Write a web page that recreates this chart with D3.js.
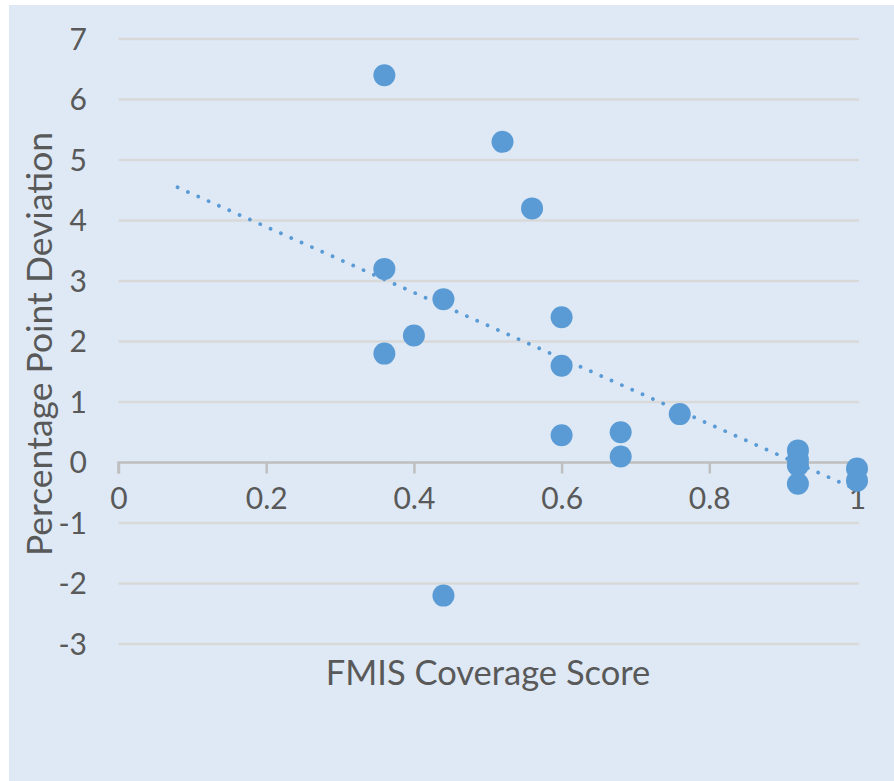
<!DOCTYPE html>
<html>
<head>
<meta charset="utf-8">
<script src="https://cdn.jsdelivr.net/npm/d3@7"></script>
<style>
  html, body { margin: 0; padding: 0; background: #ffffff; }
  text { font-family: Lato, "Open Sans", sans-serif; fill: #595959; }
</style>
</head>
<body>
<svg id="chart"></svg>
<script>
// FMIS coverage score vs percentage point deviation
const coverage = [0.36, 0.52, 0.56, 0.36, 0.44, 0.40, 0.36, 0.60, 0.60, 0.60,
                  0.68, 0.68, 0.76, 0.44, 0.92, 0.92, 0.92, 0.92, 1.00, 1.00];
const deviation = [6.4, 5.3, 4.2, 3.2, 2.7, 2.1, 1.8, 2.4, 1.6, 0.45,
                   0.5, 0.1, 0.8, -2.2, 0.2, 0.05, -0.05, -0.35, -0.1, -0.3];
const xTicks = [0, 0.2, 0.4, 0.6, 0.8, 1];
const yTicks = [-3, -2, -1, 0, 1, 2, 3, 4, 5, 6, 7];
const trendFrom = 0.08; // linear trendline, forecast backward to here

const width = 894, height = 781;
const svg = d3.select("#chart").attr("width", width).attr("height", height);

svg.append("rect")
  .attr("x", 9).attr("y", 5)
  .attr("width", width - 9).attr("height", height - 5)
  .attr("fill", "#dee9f5");

const x = d3.scaleLinear().domain([0, 1]).range([118.5, 857]);
const y = d3.scaleLinear().domain([-3, 7]).range([644, 39]);

// gridlines
svg.append("g")
  .selectAll("line")
  .data(yTicks.filter(d => d !== 0))
  .join("line")
  .attr("x1", x(0)).attr("x2", x(1) + 2)
  .attr("y1", d => y(d)).attr("y2", d => y(d))
  .attr("stroke", "#d9d9d9")
  .attr("stroke-width", 2.5);

// x axis at zero
const xAxis = svg.append("g")
  .attr("transform", `translate(0,${y(0)})`)
  .call(d3.axisBottom(x).tickValues(xTicks).tickSize(11).tickPadding(14)
    .tickFormat(d => d === 0 || d === 1 ? d : d3.format(".1f")(d)));
xAxis.select(".domain").attr("stroke", "#bfbfbf").attr("stroke-width", 2.5)
  .attr("d", `M${x(0)},11V0H${x(1) + 2}`);
xAxis.selectAll(".tick line").attr("stroke", "#bfbfbf").attr("stroke-width", 2.5);
xAxis.selectAll(".tick text").style("font-size", "30px").attr("fill", "#595959")
  .style("font-family", "Lato, sans-serif");

// y tick labels
svg.append("g")
  .selectAll("text")
  .data(yTicks)
  .join("text")
  .attr("x", 87)
  .attr("y", d => y(d))
  .attr("dy", "0.36em")
  .attr("text-anchor", "end")
  .style("font-size", "30px")
  .text(d => d);

// trendline (least squares)
const mx = d3.mean(coverage), my = d3.mean(deviation);
const sxy = d3.sum(coverage, (c, i) => (c - mx) * (deviation[i] - my));
const sxx = d3.sum(coverage, c => (c - mx) * (c - mx));
const slope = sxy / sxx, intercept = my - slope * mx;
const trendX = [trendFrom, d3.max(coverage)];

svg.append("path")
  .datum(trendX)
  .attr("fill", "none")
  .attr("stroke", "#5b9bd5")
  .attr("stroke-width", 3.8)
  .attr("stroke-linecap", "round")
  .attr("stroke-dasharray", "0.01 11.3")
  .attr("d", d3.line().x(d => x(d)).y(d => y(intercept + slope * d)));

// points
svg.append("g")
  .selectAll("circle")
  .data(coverage.map((c, i) => [c, deviation[i]]))
  .join("circle")
  .attr("cx", d => x(d[0]))
  .attr("cy", d => y(d[1]))
  .attr("r", 11)
  .attr("fill", "#5b9bd5");

// axis titles
svg.append("text")
  .attr("x", 488).attr("y", 685)
  .attr("text-anchor", "middle")
  .style("font-size", "34.5px")
  .text("FMIS Coverage Score");

svg.append("text")
  .attr("transform", `translate(52,344) rotate(-90)`)
  .attr("text-anchor", "middle")
  .style("font-size", "35.5px")
  .text("Percentage Point Deviation");
</script>
</body>
</html>
